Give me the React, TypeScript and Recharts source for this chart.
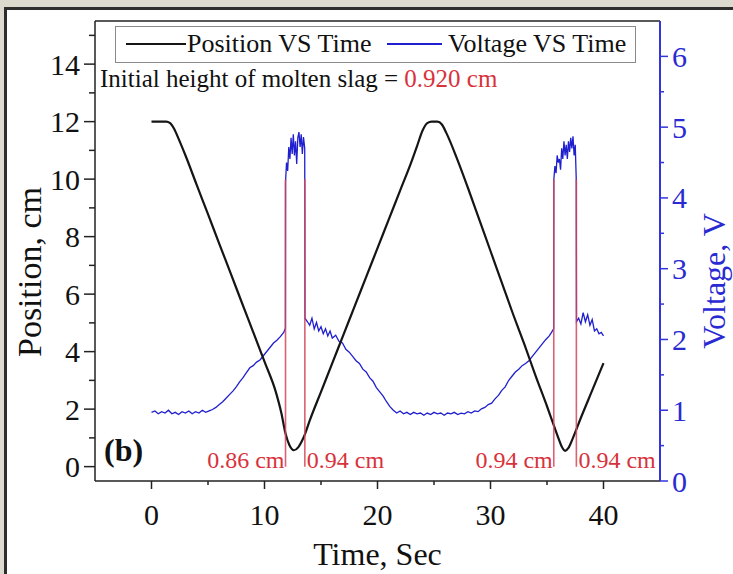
import React from "react";
import { LineChart, Line, XAxis, YAxis, ReferenceLine, Label } from "recharts";

const FONT = '"Liberation Serif", "Times New Roman", serif';
const BLUE = "#1f1fcf";
const AXIS_BLUE = "#3434dc";
const RED = "#d8323c";

// Position VS Time (cm)
const posTime = [
  0, 1, 1.3, 1.65, 2.0, 2.4, 3, 4, 5, 6, 7, 8, 9, 10, 11, 11.5, 11.86, 12.2, 12.6, 13.0, 13.3, 13.6,
  14, 15, 16, 17, 18, 19, 20, 21, 22, 23, 23.5, 24, 24.4, 24.8, 25.3, 25.7, 26.1, 27, 28, 29, 30,
  31, 32, 33, 34, 35, 35.5, 36, 36.3, 36.6, 36.9, 37.3, 38, 39, 40,
];
const posValue = [
  12, 12, 12, 11.95, 11.75, 11.4, 10.83, 9.8, 8.78, 7.75, 6.73, 5.7, 4.68, 3.65, 2.6, 1.85, 1.15,
  0.75, 0.57, 0.68, 0.88, 1.15, 1.6, 2.6, 3.6, 4.6, 5.6, 6.6, 7.6, 8.6, 9.6, 10.6, 11.15, 11.7,
  11.95, 12.0, 12.0, 11.9, 11.6, 10.75, 9.7, 8.6, 7.5, 6.4, 5.3, 4.25, 3.15, 2.1, 1.55, 1.0, 0.7,
  0.55, 0.65, 1.0, 1.7, 2.65, 3.6,
];

// Voltage VS Time (V)
const voltTime = [
  0, 0.3, 0.6, 0.9, 1.2, 1.5, 1.8, 2.1, 2.4, 2.7, 3.0, 3.3, 3.6, 3.9, 4.2, 4.5, 4.8, 5.1,
  5.4, 5.7, 6.0, 6.3, 6.6, 6.9, 7.2, 7.5, 7.8, 8.1, 8.4, 8.7, 9.0, 9.3, 9.6, 9.9, 10.2, 10.5,
  10.8, 11.1, 11.4, 11.7, 11.85,
  11.86, 11.95, 12.05, 12.15, 12.25, 12.35, 12.45, 12.55, 12.65, 12.75, 12.85, 12.95, 13.05,
  13.15, 13.25, 13.35, 13.45, 13.56, 13.58,
  13.8, 14.0, 14.2, 14.4, 14.6, 14.8, 15.0, 15.2, 15.4, 15.6, 15.8, 16.0, 16.3, 16.6, 16.9,
  17.2, 17.5, 17.8, 18.1, 18.4, 18.7, 19.0, 19.3, 19.6, 19.9, 20.2, 20.5, 20.8, 21.1, 21.4,
  21.7, 22.0, 22.3, 22.6, 22.9, 23.2, 23.5, 23.8, 24.1, 24.4, 24.7, 25.0, 25.3, 25.6, 25.9,
  26.2, 26.5, 26.8, 27.1, 27.4, 27.7, 28.0, 28.3, 28.6, 28.9, 29.2, 29.5, 29.8, 30.1, 30.4,
  30.7, 31.0, 31.3, 31.6, 31.9, 32.2, 32.5, 32.8, 33.1, 33.4, 33.7, 34.0, 34.3, 34.6, 34.9,
  35.2, 35.4, 35.59,
  35.6, 35.7, 35.8, 35.9, 36.0, 36.1, 36.2, 36.3, 36.4, 36.5, 36.6, 36.7, 36.8, 36.9, 37.0,
  37.1, 37.2, 37.3, 37.4, 37.5, 37.59, 37.61,
  37.8, 38.0, 38.2, 38.4, 38.6, 38.8, 39.0, 39.2, 39.4, 39.6, 39.8, 40.0,
];
const voltValue = [
  0.97, 0.99, 0.95, 0.98, 0.96, 1.0, 0.95, 0.97, 0.94, 0.98, 0.96, 0.99, 0.95, 0.98, 0.96, 1.0,
  0.97, 0.99,
  1.01, 1.04, 1.08, 1.12, 1.17, 1.22, 1.27, 1.33, 1.4, 1.46, 1.53, 1.6, 1.63, 1.68, 1.71, 1.77,
  1.83, 1.89, 1.95, 1.99, 2.04, 2.1, 2.16,
  4.22, 4.5, 4.38, 4.72, 4.55, 4.85, 4.62, 4.9, 4.6, 4.8, 4.48, 4.85, 4.93, 4.72, 4.9, 4.62,
  4.86, 4.7, 2.3,
  2.25, 2.2, 2.3, 2.15, 2.24, 2.12, 2.18, 2.08, 2.15, 2.05, 2.12, 2.02, 2.06, 1.97, 1.95,
  1.86, 1.82, 1.76, 1.7, 1.66, 1.58, 1.54, 1.46, 1.41, 1.32, 1.26, 1.2, 1.12, 1.05, 1.0,
  0.96, 0.99, 0.95, 0.97, 0.94, 0.97, 0.95, 0.96, 0.93, 0.96, 0.94, 0.97, 0.95, 0.96, 0.93,
  0.96, 0.95, 0.97, 0.94, 0.96, 0.95, 0.98, 0.96, 0.99, 0.98, 1.02, 1.04, 1.08, 1.1, 1.16,
  1.21, 1.28, 1.33, 1.42, 1.48, 1.54, 1.58, 1.63, 1.66, 1.7, 1.76, 1.82, 1.88, 1.94, 2.0,
  2.05, 2.1, 2.15,
  4.25, 4.45, 4.35, 4.6, 4.5, 4.55, 4.4, 4.7, 4.55, 4.8, 4.6, 4.75, 4.55, 4.8, 4.65, 4.85,
  4.7, 4.87, 4.6, 4.75, 4.25, 2.25,
  2.3, 2.22, 2.38, 2.25, 2.35, 2.2, 2.28, 2.12, 2.15, 2.08, 2.1, 2.05,
];

// red markers: time, label, which side the label sits on
const markerTime = [11.86, 13.57, 35.6, 37.6];
const markerLabel = ["0.86 cm", "0.94 cm", "0.94 cm", "0.94 cm"];
const markerSide = ["left", "right", "left", "right"];

const xTicks = [0, 5, 10, 15, 20, 25, 30, 35, 40];
const leftTicks = [0, 1, 2, 3, 4, 5, 6, 7, 8, 9, 10, 11, 12, 13, 14, 15];
const rightTicks = [0, 0.5, 1, 1.5, 2, 2.5, 3, 3.5, 4, 4.5, 5, 5.5, 6];

const positionData = posTime.map((t, i) => ({ t, pos: posValue[i] }));
const voltageData = voltTime.map((t, i) => ({ t, volt: voltValue[i] }));

function LeftTick({ x, y, payload }: any) {
  const v = payload.value;
  const major = v % 2 === 0;
  return (
    <g>
      <line x1={x - (major ? 11 : 6)} x2={x} y1={y} y2={y} stroke="#222" strokeWidth={1.5} />
      {major && (
        <text x={x - 15} y={y} dy="0.35em" textAnchor="end" fontFamily={FONT} fontSize={30} fill="#111">
          {v}
        </text>
      )}
    </g>
  );
}

function BottomTick({ x, y, payload }: any) {
  const v = payload.value;
  const major = v % 10 === 0;
  return (
    <g>
      <line x1={x} x2={x} y1={y} y2={y + (major ? 8 : 4)} stroke="#222" strokeWidth={1.5} />
      {major && (
        <text x={x} y={y + 44} textAnchor="middle" fontFamily={FONT} fontSize={30} fill="#111">
          {v}
        </text>
      )}
    </g>
  );
}

function RightTick({ x, y, payload }: any) {
  const v = payload.value;
  const major = Number.isInteger(v);
  return (
    <g>
      <line x1={x} x2={x + (major ? 8 : 4)} y1={y} y2={y} stroke={AXIS_BLUE} strokeWidth={1.5} />
      {major && (
        <text x={x + 12} y={y} dy="0.35em" textAnchor="start" fontFamily={FONT} fontSize={30} fill="#2a2ad2">
          {v}
        </text>
      )}
    </g>
  );
}

const markerLabelFn = (text: string, side: string) => (p: any) => {
  const vb = p.viewBox || {};
  const x = vb.x ?? vb.x1 ?? 0;
  const bottom = vb.height != null ? vb.y + vb.height : Math.max(vb.y1 ?? 0, vb.y2 ?? 0);
  return (
    <text
      x={side === "left" ? x - 1 : x + 2}
      y={bottom + 1}
      textAnchor={side === "left" ? "end" : "start"}
      fontFamily={FONT}
      fontSize={24}
      fill={RED}
    >
      {text}
    </text>
  );
};

export default function App() {
  return (
    <div style={{ position: "relative", width: 733, height: 574, background: "#dcd9cf", overflow: "hidden" }}>
      <style>{`body{margin:0}`}</style>
      {/* page frame */}
      <div
        style={{
          position: "absolute",
          left: 4,
          top: 7,
          right: 0,
          bottom: 0,
          background: "#fff",
          borderLeft: "3px solid #2d2d2d",
          borderTop: "3px solid #2d2d2d",
        }}
      />

      <div style={{ position: "absolute", left: 0, top: 0 }}>
        <LineChart width={733} height={574} margin={{ top: 21, right: 0, bottom: 0, left: 0 }}>
          <XAxis
            type="number"
            dataKey="t"
            domain={[-5, 45]}
            ticks={xTicks}
            interval={0}
            allowDataOverflow
            height={93}
            tickSize={0}
            tickMargin={0}
            tickLine={false}
            tick={<BottomTick />}
            axisLine={{ stroke: "#222", strokeWidth: 1.5 }}
          >
            <Label
              content={(p: any) => {
                const vb = p.viewBox;
                return (
                  <text x={vb.x + vb.width / 2} y={vb.y + 84} textAnchor="middle" fontFamily={FONT} fontSize={32} fill="#111">
                    Time, Sec
                  </text>
                );
              }}
            />
          </XAxis>
          <YAxis
            yAxisId="left"
            type="number"
            domain={[-0.5, 15.5]}
            ticks={leftTicks}
            interval={0}
            allowDataOverflow
            width={95}
            tickSize={0}
            tickMargin={0}
            tickLine={false}
            tick={<LeftTick />}
            axisLine={{ stroke: "#222", strokeWidth: 1.5 }}
          >
            <Label
              content={(p: any) => {
                const vb = p.viewBox;
                const cx = vb.x + 29;
                const cy = vb.y + vb.height / 2 + 21;
                return (
                  <text x={cx} y={cy} transform={`rotate(-90 ${cx} ${cy})`} dy="0.35em" textAnchor="middle" fontFamily={FONT} fontSize={34} fill="#111">
                    Position, cm
                  </text>
                );
              }}
            />
          </YAxis>
          <YAxis
            yAxisId="right"
            orientation="right"
            type="number"
            domain={[0, 6.5]}
            ticks={rightTicks}
            interval={0}
            allowDataOverflow
            width={73}
            tickSize={0}
            tickMargin={0}
            tickLine={false}
            tick={<RightTick />}
            axisLine={{ stroke: AXIS_BLUE, strokeWidth: 2 }}
          >
            <Label
              content={(p: any) => {
                const vb = p.viewBox;
                const cx = vb.x + 54;
                const cy = vb.y + vb.height / 2 + 30;
                return (
                  <text x={cx} y={cy} transform={`rotate(-90 ${cx} ${cy})`} dy="0.35em" textAnchor="middle" fontFamily={FONT} fontSize={32} fill="#2a2ad2">
                    Voltage, V
                  </text>
                );
              }}
            />
          </YAxis>

          {/* top frame line */}
          <ReferenceLine yAxisId="left" y={15.5} stroke="#222" strokeWidth={1.5} />

          <Line
            data={voltageData}
            dataKey="volt"
            yAxisId="right"
            type="linear"
            stroke={BLUE}
            strokeWidth={1.3}
            dot={false}
            isAnimationActive={false}
          />
          <Line
            data={positionData}
            dataKey="pos"
            yAxisId="left"
            type="monotone"
            stroke="#151515"
            strokeWidth={2.2}
            dot={false}
            isAnimationActive={false}
          />

          {markerTime.map((t, i) => (
            <ReferenceLine
              key={i}
              yAxisId="left"
              segment={[
                { x: t, y: 0 },
                { x: t, y: 10 },
              ]}
              stroke="#d2465a"
              strokeOpacity={0.85}
              strokeWidth={1.6}
              label={markerLabelFn(markerLabel[i], markerSide[i])}
            />
          ))}
        </LineChart>
      </div>

      {/* legend */}
      <div
        style={{
          position: "absolute",
          left: 115,
          top: 26,
          width: 519,
          height: 35,
          border: "1.5px solid #8a8a8a",
          background: "#fff",
          fontFamily: FONT,
          fontSize: 26,
          color: "#111",
        }}
      >
        <div style={{ position: "absolute", left: 10, top: 16, width: 60, height: 2, background: "#151515" }} />
        <div style={{ position: "absolute", left: 71, top: 1, whiteSpace: "nowrap", lineHeight: "32px" }}>Position VS Time</div>
        <div style={{ position: "absolute", left: 271, top: 16, width: 55, height: 1.5, background: BLUE }} />
        <div style={{ position: "absolute", left: 332, top: 1, whiteSpace: "nowrap", lineHeight: "32px" }}>Voltage VS Time</div>
      </div>

      <div
        style={{
          position: "absolute",
          left: 100,
          top: 63,
          whiteSpace: "nowrap",
          fontFamily: FONT,
          fontSize: 25,
          lineHeight: "32px",
          color: "#111",
        }}
      >
        Initial height of molten slag = <span style={{ color: RED }}>0.920 cm</span>
      </div>

      <div
        style={{
          position: "absolute",
          left: 104,
          top: 432,
          fontFamily: FONT,
          fontSize: 32,
          fontWeight: "bold",
          lineHeight: "36px",
          color: "#111",
        }}
      >
        (b)
      </div>
    </div>
  );
}
